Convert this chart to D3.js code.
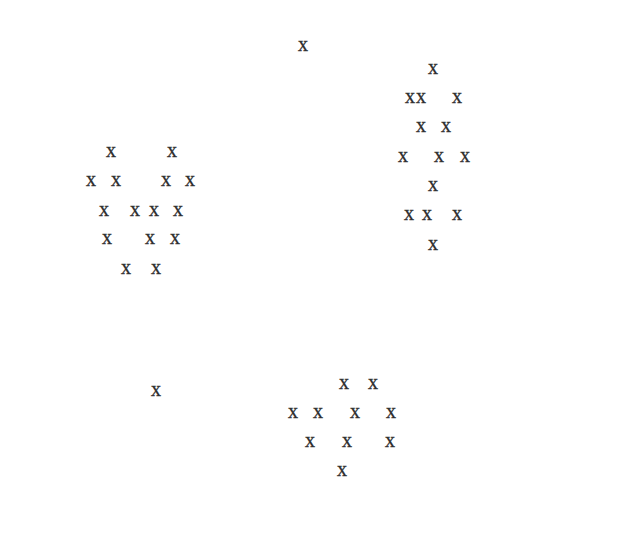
<!DOCTYPE html>
<html>
<head>
<meta charset="utf-8">
<script src="https://cdn.jsdelivr.net/npm/d3@7"></script>
<style>
  html, body { margin: 0; padding: 0; background: #fff; }
  svg { display: block; }
</style>
</head>
<body>
<svg id="chart" width="622" height="542"></svg>
<script>
// Unlabelled points (x1, x2), y measured upward from bottom
const xValues = [
  111, 172, 91, 116, 166, 190, 104, 135, 154, 178, 107, 150, 175, 126, 156,
  433, 410, 421, 457, 421, 446, 403, 439, 465, 433, 409, 427, 457, 433,
  344, 373, 293, 318, 355, 391, 310, 347, 390, 342,
  156, 303
];
const yValues = [
  391, 391, 362, 362, 362, 362, 332, 332, 332, 332, 304, 304, 304, 274, 274,
  474, 445, 445, 445, 416, 416, 386, 386, 386, 357, 328, 328, 328, 298,
  159, 159, 130, 130, 130, 130, 101, 101, 101, 72,
  152, 497
];
const markerLabel = "x";

const W = 622, H = 542;
const svg = d3.select("#chart");
const xScale = d3.scaleLinear().domain([0, 622]).range([0, W]);
const yScale = d3.scaleLinear().domain([0, 542]).range([H, 0]);

const pts = xValues.map((x, i) => ({ x, y: yValues[i] }));

svg.append("g")
  .selectAll("text")
  .data(pts)
  .join("text")
  .attr("x", d => xScale(d.x))
  .attr("y", d => yScale(d.y))
  .attr("dy", "0.3em")
  .attr("text-anchor", "middle")
  .attr("font-family", "'Liberation Serif', 'Times New Roman', serif")
  .attr("font-size", 20)
  .attr("fill", "#2a2a2a")
  .attr("stroke", "#3a3a3a")
  .attr("stroke-width", 0.35)
  .text(markerLabel);
</script>
</body>
</html>
